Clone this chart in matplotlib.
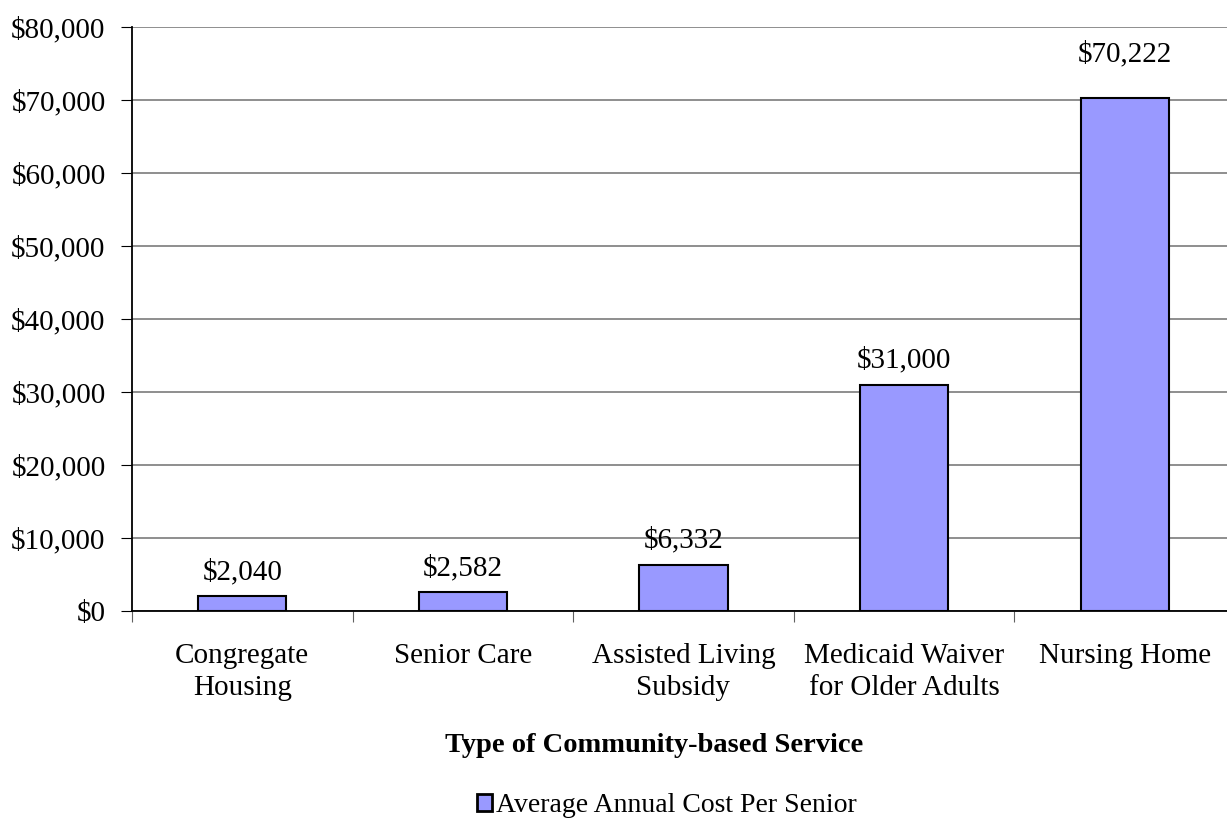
import numpy as np
import matplotlib.pyplot as plt
from matplotlib.ticker import FuncFormatter

categories = ['Congregate\nHousing', 'Senior Care', 'Assisted Living\nSubsidy',
              'Medicaid Waiver\nfor Older Adults', 'Nursing Home']
costs = [2040, 2582, 6332, 31000, 70222]
series_name = 'Average Annual Cost Per Senior'

# label gap above each bar, in points (Excel put the top one higher)
label_gap = [8, 8, 8, 8, 22]

plt.rcParams['font.family'] = ['Liberation Serif', 'DejaVu Serif']

W, H = 1227, 818
my_dpi = 100
fig = plt.figure(figsize=(W / my_dpi, H / my_dpi), dpi=my_dpi)
left, right, top, bottom = 132, 1235, 27, 611
ax = fig.add_axes([left / W, 1 - bottom / H, (right - left) / W, (bottom - top) / H])

x = np.arange(len(categories))
bars = ax.bar(x, costs, width=0.4, color='#9999FF', edgecolor='black', linewidth=1.5,
              label=series_name, zorder=3)

ax.set_xlim(-0.5, len(categories) - 0.5)
ax.set_ylim(0, 80000)
ax.set_yticks(np.arange(0, 80001, 10000))
ax.yaxis.set_major_formatter(FuncFormatter(lambda v, p: f'${v:,.0f}'))
ax.yaxis.grid(True, color='#868686', linewidth=1.3, zorder=0)

ax.set_xticks(np.arange(-0.5, len(categories), 1.0))
ax.set_xticklabels([])
ax.set_xticks(x, minor=True)
ax.set_xticklabels(categories, minor=True, fontsize=21, linespacing=1.3)
ax.tick_params(axis='x', which='minor', length=0, pad=23)
ax.tick_params(axis='x', which='major', length=8, direction='out', color='#606060')
ax.tick_params(axis='y', length=8, direction='out', labelsize=21, pad=11)

for s in ['top', 'right']:
    ax.spines[s].set_visible(False)
ax.spines['left'].set_linewidth(1.3)
ax.spines['bottom'].set_linewidth(1.3)

for xi, v, g in zip(x, costs, label_gap):
    ax.annotate(f'${v:,}', (xi, v), xytext=(0, g), textcoords='offset points',
                ha='center', va='bottom', fontsize=21)

fig.text(654 / W, 1 - 745 / H, 'Type of Community-based Service', ha='center', va='center',
         fontsize=20.5, fontweight='bold')
leg = fig.legend(handles=[bars], labels=[series_name], loc='center',
                 bbox_to_anchor=(667 / W, 1 - 806 / H), frameon=False, fontsize=20,
                 handlelength=0.55, handleheight=0.55, handletextpad=0.15, borderpad=0)
leg.legend_handles[0].set_linewidth(2)

plt.savefig('out.png', dpi=my_dpi)
